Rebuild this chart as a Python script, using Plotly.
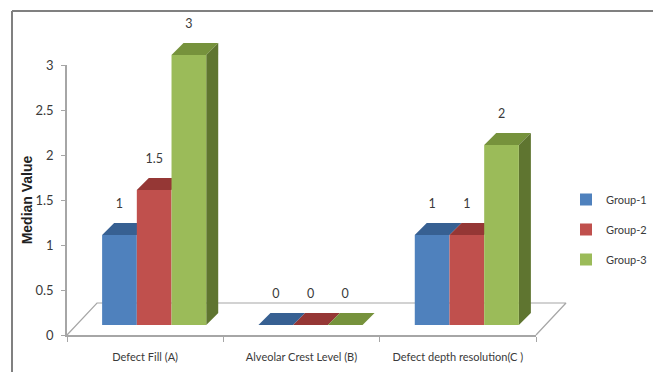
import plotly.graph_objects as go

categories = ["Defect Fill (A)", "Alveolar Crest Level (B)", "Defect depth resolution(C )"]
group_names = ["Group-1", "Group-2", "Group-3"]
group_1 = [1, 0, 1]
group_2 = [1.5, 0, 1]
group_3 = [3, 0, 2]
y_ticks = [0, 0.5, 1, 1.5, 2, 2.5, 3]

series = [group_1, group_2, group_3]
front = ["#4F81BD", "#C0504D", "#9BBB59"]
top = ["#376092", "#953735", "#76923C"]
side = ["#385D8A", "#8C3836", "#5F7530"]

W, H = 653, 372
L, R, T, B = 67, 536, 65, 335
PX = (R - L) / 3          # pixels per category
PY = (B - T) / 3          # pixels per unit
BAR = 34.7 / PX
DX, DY = 12 / PX, 12 / PY
FLOOR = 10 / PY
SHIFT = 9 / PX
FX, FY = 30 / PX, 32 / PY
LABEL = 0.34
FONT = "Lato, sans-serif"
INK = "#3a3a3a"
AXIS = "#a6a6a6"

# the marks live on full-canvas axes sharing the scale of the visible axes
x0, x1 = -0.5, 2.5
full_x = [x0 - L / PX, x0 + (W - L) / PX]
full_y = [(B - H) / PY, B / PY]

fig = go.Figure()

# floor of the 3D box
fig.add_trace(go.Scatter(
    x=[x0, x0 + FX, x1 + FX, x1], y=[0, FY, FY, 0], mode="lines",
    line=dict(color=AXIS, width=1.2), hoverinfo="skip", showlegend=False))

# top and side faces (behind the fronts)
for s, vals in enumerate(series):
    for c, v in enumerate(vals):
        a = c + SHIFT + (s - 1.5) * BAR
        b = a + BAR
        h = v + FLOOR
        fig.add_trace(go.Scatter(
            x=[a, b, b + DX, a + DX, a], y=[h, h, h + DY, h + DY, h],
            mode="lines", fill="toself", fillcolor=top[s], line=dict(width=0),
            hoverinfo="skip", showlegend=False))
        if s == 2 and v > 0:
            fig.add_trace(go.Scatter(
                x=[b, b + DX, b + DX, b, b],
                y=[FLOOR, FLOOR + DY, h + DY, h, FLOOR],
                mode="lines", fill="toself", fillcolor=side[s], line=dict(width=0),
                hoverinfo="skip", showlegend=False))

# value labels
for s, vals in enumerate(series):
    fig.add_trace(go.Scatter(
        x=[c + SHIFT + (s - 1) * BAR for c in range(3)],
        y=[v + FLOOR + LABEL for v in vals],
        mode="text", text=[f"{v:g}" for v in vals], textposition="middle center",
        textfont=dict(family=FONT, size=12.5, color=INK),
        hoverinfo="skip", showlegend=False))

# front faces, on an overlay so that they cover the tops
for s, vals in enumerate(series):
    fig.add_trace(go.Bar(
        name=group_names[s], x=[c + SHIFT + (s - 1) * BAR for c in range(3)],
        y=vals, base=[FLOOR] * 3, width=BAR, marker=dict(color=front[s], line_width=0),
        xaxis="x2", yaxis="y2", legendgroup=group_names[s]))

# keeps the visible axes drawn
fig.add_trace(go.Scatter(x=[0, 1, 2], y=group_1, mode="none", hoverinfo="skip",
                         showlegend=False, xaxis="x3", yaxis="y3"))

hidden = dict(visible=False, fixedrange=True)
fig.update_layout(
    width=W, height=H, autosize=False,
    margin=dict(l=0, r=0, t=0, b=0, autoexpand=False),
    paper_bgcolor="white", plot_bgcolor="rgba(0,0,0,0)",
    font=dict(family=FONT, size=13, color=INK),
    barmode="overlay",
    xaxis=dict(range=full_x, domain=[0, 1], anchor="y", **hidden),
    yaxis=dict(range=full_y, domain=[0, 1], anchor="x", **hidden),
    xaxis2=dict(range=full_x, anchor="y2", overlaying="x", **hidden),
    yaxis2=dict(range=full_y, anchor="x2", overlaying="y", **hidden),
    xaxis3=dict(
        domain=[L / W, R / W], anchor="y3",
        range=[x0, x1], tickmode="array", tickvals=[0, 1, 2], ticktext=categories,
        ticks="", showgrid=False, zeroline=False, showline=True, linecolor=AXIS, linewidth=1.5,
        tickfont=dict(family=FONT, size=11, color=INK), ticklabelstandoff=11,
        minor=dict(tickmode="array", tickvals=[-0.5, 0.5, 1.5, 2.5], ticks="outside",
                   ticklen=5, tickcolor=AXIS, showgrid=False)),
    yaxis3=dict(
        domain=[(H - B) / H, (H - T) / H], anchor="x3",
        range=[0, 3], tickmode="array", tickvals=y_ticks, ticktext=[f"{t:g}" for t in y_ticks],
        ticks="outside", ticklen=4, tickcolor=AXIS, showgrid=False, zeroline=False,
        showline=True, linecolor=AXIS, linewidth=1.5, ticklabelstandoff=5, automargin=True,
        tickfont=dict(family=FONT, size=13, color=INK),
        title=dict(text="<b>Median Value</b>", font=dict(family="Liberation Sans, Arial, sans-serif", size=14, color="#222222"), standoff=0)),
    legend=dict(x=566 / W, xanchor="left", y=(H - 229.5) / H, yanchor="middle",
                traceorder="grouped", tracegroupgap=11, itemwidth=30,
                font=dict(family=FONT, size=11, color=INK), bgcolor="rgba(0,0,0,0)"),
    shapes=[dict(type="line", xref="paper", yref="paper", x0=12 / W, x1=12 / W,
                 y0=0, y1=(H - 11) / H, line=dict(color="#808080", width=2)),
            dict(type="line", xref="paper", yref="paper", x0=12 / W, x1=1,
                 y0=(H - 11) / H, y1=(H - 11) / H, line=dict(color="#808080", width=2))],
)
fig.write_html("out.html", config={"displayModeBar": False},
               post_script="document.body.style.margin='0';document.documentElement.style.overflow='hidden';")
